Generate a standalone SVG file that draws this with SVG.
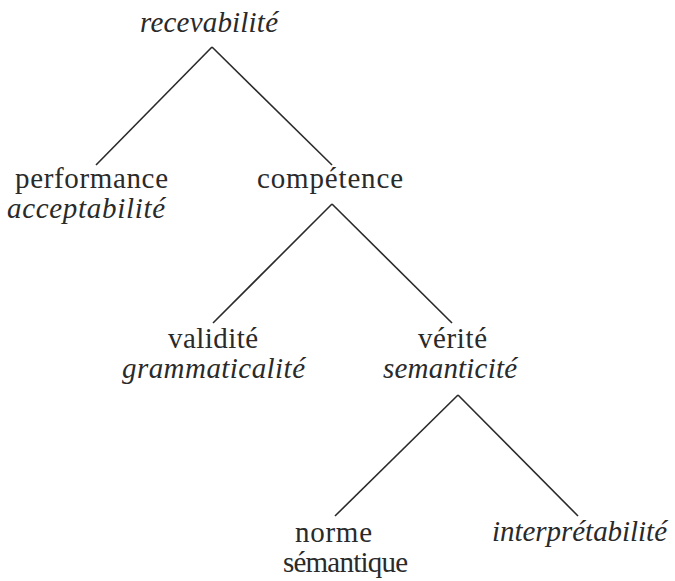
<svg xmlns="http://www.w3.org/2000/svg" width="675" height="581" viewBox="0 0 675 581">
<style>
text{font-family:"Liberation Serif","Times New Roman",serif;font-size:29px;fill:#2a2a2a}
.i{font-style:italic}
.c line{stroke:#2a2a2a;stroke-width:1.6;fill:none}
</style>
<rect width="675" height="581" fill="#fff"/>
<g class="c" id="connectors">
<line x1="212" y1="47" x2="96" y2="165"/>
<line x1="212" y1="47" x2="332" y2="165"/>
<line x1="332" y1="204" x2="213" y2="323"/>
<line x1="332" y1="204" x2="452" y2="323"/>
<line x1="458" y1="395" x2="335" y2="516"/>
<line x1="458" y1="395" x2="578" y2="516"/>
</g>
<g id="recevabilite"><text class="i" x="140" y="32" textLength="138">recevabilité</text></g>
<g id="performance"><text x="15" y="188" textLength="153">performance</text>
<text class="i" x="7" y="218" textLength="158">acceptabilité</text></g>
<g id="competence"><text x="257" y="188" textLength="146">compétence</text></g>
<g id="validite"><text x="168" y="348" textLength="90">validité</text>
<text class="i" x="122" y="378" textLength="183">grammaticalité</text></g>
<g id="verite"><text x="418" y="348" textLength="69">vérité</text>
<text class="i" x="383" y="378" textLength="134">semanticité</text></g>
<g id="norme"><text x="295" y="542" textLength="77">norme</text>
<text x="283" y="572" textLength="125">sémantique</text></g>
<g id="interpretabilite"><text class="i" x="492" y="541" textLength="175">interprétabilité</text></g>
</svg>
